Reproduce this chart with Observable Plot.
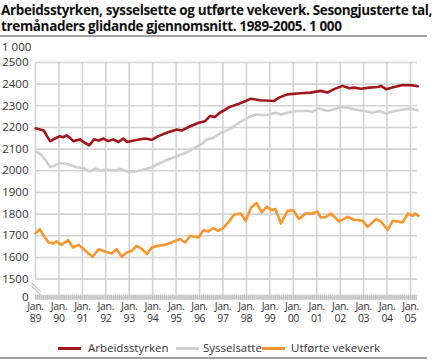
<!DOCTYPE html>
<html><head><meta charset="utf-8">
<script src="https://cdn.jsdelivr.net/npm/d3@7"></script>
<script src="https://cdn.jsdelivr.net/npm/@observablehq/plot@0.6"></script>
<style>
body{margin:0;background:#fff;font-family:"Open Sans",sans-serif;}
#wrap{width:434px;height:361px;position:relative;overflow:hidden;background:#fff}
#title{position:absolute;left:1px;top:2px;font-weight:bold;font-size:13.5px;line-height:16px;color:#111;white-space:nowrap}
#title div{white-space:nowrap;display:inline-block}
.rule{position:absolute;left:0;width:427px;height:2px;background:#a0a0a0}
#unit{position:absolute;left:2px;top:39px;font-size:11.5px;color:#333}
#chart{position:absolute;left:0;top:37px}
#chart g[aria-label="x-axis tick label"] text{letter-spacing:-0.35px}
#legend{position:absolute;top:340px;left:0;width:434px;height:16px;font-size:11.5px;color:#333}
#legend .sw{position:absolute;top:7px;width:23px;height:3px}
#legend .tx{position:absolute;top:0;line-height:16px;white-space:nowrap}
</style></head>
<body><div id="wrap">
<div id="title"><div id="t1">Arbeidsstyrken, sysselsette og utførte vekeverk. Sesongjusterte tal,</div><br><div id="t2">tremånaders glidande gjennomsnitt. 1989-2005. 1 000</div></div>
<div class="rule" style="top:35px"></div>
<div id="chart"></div>
<div id="unit">1 000</div>
<div id="legend"></div>
<div class="rule" style="top:357px"></div>
</div>
<script>
// Series names and colours
const seriesNames = ["Arbeidsstyrken", "Sysselsatte", "Utførte vekeverk"];
const seriesColors = ["#a0161b", "#cfcfcf", "#f7962c"];

// [decimal year, value in 1000]
const arbeidsstyrken = [
[1989.0,2196],[1989.35,2186],[1989.49,2160],[1989.63,2137],[1989.83,2149],[1990.04,2160],[1990.19,2155],[1990.33,2164],[1990.47,2152],[1990.61,2137],[1990.9,2145],[1991.04,2133],[1991.3,2118],[1991.5,2145],[1991.7,2140],[1991.9,2149],[1992.1,2137],[1992.32,2145],[1992.54,2133],[1992.75,2149],[1992.9,2133],[1993.25,2141],[1993.68,2149],[1993.96,2143],[1994.24,2160],[1994.66,2178],[1995.03,2191],[1995.24,2186],[1995.53,2202],[1995.96,2222],[1996.24,2229],[1996.44,2253],[1996.65,2248],[1996.86,2268],[1997.07,2280],[1997.26,2294],[1997.69,2310],[1997.97,2322],[1998.2,2333],[1998.58,2326],[1999.17,2322],[1999.39,2338],[1999.74,2353],[2000.31,2358],[2000.74,2361],[2001.17,2369],[2001.46,2361],[2001.74,2377],[2002.1,2392],[2002.39,2381],[2002.6,2384],[2002.89,2379],[2003.24,2384],[2003.6,2387],[2003.74,2392],[2003.96,2377],[2004.31,2387],[2004.67,2396],[2005.03,2395],[2005.31,2390]
];
const sysselsatte = [
[1989.0,2090],[1989.2,2078],[1989.42,2052],[1989.63,2016],[1989.83,2025],[1990.04,2036],[1990.33,2031],[1990.54,2025],[1990.75,2016],[1991.04,2013],[1991.3,1997],[1991.57,2010],[1991.78,2001],[1992.03,2005],[1992.39,2001],[1992.61,2010],[1992.97,1994],[1993.25,1997],[1993.6,2005],[1993.96,2016],[1994.31,2036],[1994.66,2052],[1995.03,2067],[1995.39,2082],[1995.75,2103],[1996.1,2124],[1996.31,2145],[1996.58,2152],[1996.86,2172],[1997.26,2191],[1997.69,2222],[1998.12,2248],[1998.4,2260],[1998.7,2257],[1999.0,2260],[1999.24,2268],[1999.48,2260],[1999.74,2268],[2000.17,2276],[2000.6,2276],[2000.81,2273],[2001.1,2288],[2001.46,2276],[2001.74,2284],[2002.03,2294],[2002.3,2291],[2002.6,2284],[2003.03,2276],[2003.38,2268],[2003.67,2276],[2003.96,2265],[2004.31,2276],[2004.74,2284],[2004.96,2288],[2005.31,2280]
];
const utforteVekeverk = [
[1989.0,1711],[1989.18,1731],[1989.35,1700],[1989.56,1669],[1989.76,1665],[1989.9,1674],[1990.1,1658],[1990.4,1680],[1990.6,1646],[1990.83,1658],[1991.1,1634],[1991.43,1603],[1991.7,1638],[1991.96,1627],[1992.25,1618],[1992.46,1638],[1992.68,1603],[1992.9,1623],[1993.11,1631],[1993.32,1654],[1993.54,1638],[1993.75,1615],[1993.96,1646],[1994.24,1654],[1994.52,1658],[1994.8,1669],[1995.17,1685],[1995.39,1669],[1995.6,1700],[1995.96,1692],[1996.17,1726],[1996.38,1720],[1996.58,1735],[1996.79,1723],[1997.0,1735],[1997.2,1758],[1997.47,1797],[1997.76,1803],[1997.97,1769],[1998.2,1831],[1998.43,1851],[1998.65,1808],[1998.88,1834],[1999.05,1818],[1999.24,1823],[1999.47,1757],[1999.76,1815],[2000.0,1818],[2000.24,1777],[2000.53,1803],[2000.81,1803],[2001.03,1812],[2001.17,1784],[2001.39,1787],[2001.6,1803],[2001.96,1766],[2002.31,1787],[2002.6,1774],[2002.96,1769],[2003.17,1741],[2003.53,1777],[2003.74,1766],[2004.03,1727],[2004.24,1769],[2004.67,1762],[2004.89,1803],[2005.1,1792],[2005.2,1803],[2005.34,1792]
];

// Axis ticks
const yGridValues = [1500,1600,1700,1800,1900,2000,2100,2200,2300,2400,2500];
const yBottom = 1415;           // axis break: shown as "0"
const xYears = d3.range(1989, 2006);
const xEnd = 2005.3;

// Fit title line 1 to the reference width
(function fitTitle(){
  const t1 = document.getElementById("t1"), t2 = document.getElementById("t2");
  const target = 431;
  const w = t1.getBoundingClientRect().width;
  const n = t1.textContent.length;
  const ls = (target - w) / n;
  t1.style.letterSpacing = ls + "px";
  t2.style.letterSpacing = ls + "px";
})();

const rows = [];
[arbeidsstyrken, sysselsatte, utforteVekeverk].forEach((arr, i) =>
  arr.forEach(([x, v]) => rows.push({series: seriesNames[i], x, v})));

const months = d3.range(0, Math.floor((xEnd - 1989) * 12) + 1).map(i => 1989 + i / 12);
const gridColor = "#d3d3d3";
const breakMarks = [{x1: 1988.83, y1: 1483, x2: 1989.22, y2: 1442}];

const chart = Plot.plot({
  width: 434, height: 295,
  marginLeft: 35, marginRight: 17, marginTop: 25, marginBottom: 35,
  x: {type: "linear", domain: [1989, xEnd]},
  y: {domain: [yBottom, 2500]},
  color: {domain: seriesNames, range: seriesColors},
  style: {fontFamily: "'Open Sans', sans-serif", fontSize: "11.5px", color: "#333", background: "#fff"},
  marks: [
    Plot.ruleY(yGridValues, {stroke: gridColor, strokeWidth: 1.6}),
    Plot.ruleX(xYears.slice(1), {y1: yBottom, y2: 2500, stroke: gridColor, strokeWidth: 1.6}),
    Plot.ruleX([1989], {y1: 1500, y2: 2500, stroke: gridColor, strokeWidth: 1.6}),
    Plot.ruleY([yBottom], {stroke: "#dadada", strokeWidth: 5}),
    Plot.ruleX(months, {y1: yBottom - 11, y2: yBottom + 11, stroke: "#bdbdbd", strokeWidth: 1}),
    Plot.link(breakMarks, {x1: "x1", y1: "y1", x2: "x2", y2: "y2", stroke: "#c8c8c8", strokeWidth: 1.3}),
    Plot.link(breakMarks, {x1: "x1", y1: "y1", x2: "x2", y2: "y2", stroke: "#c8c8c8", strokeWidth: 1.3, dy: 3}),
    Plot.line(rows, {x: "x", y: "v", z: "series", stroke: "series", strokeWidth: 2.6, strokeLinejoin: "round"}),
    Plot.axisY([yBottom, ...yGridValues], {tickSize: 0, tickPadding: 7, tickFormat: d => d === yBottom ? "0" : String(d), fill: "#333", label: null}),
    Plot.axisX(xYears, {tickSize: 0, tickPadding: 4, lineHeight: 1.15, fontSize: 10.5, tickFormat: d => "Jan.\n" + String(d).slice(2), fill: "#333", label: null})
  ]
});
document.getElementById("chart").appendChild(chart);

// Legend
const legendSwatchX = [58, 176, 262];
const legendTextX = [88, 203, 291];
const legend = document.getElementById("legend");
seriesNames.forEach((n, i) => {
  const sw = document.createElement("span");
  sw.className = "sw";
  sw.style.left = legendSwatchX[i] + "px";
  sw.style.background = seriesColors[i];
  const tx = document.createElement("span");
  tx.className = "tx";
  tx.style.left = legendTextX[i] + "px";
  tx.textContent = n;
  legend.appendChild(sw);
  legend.appendChild(tx);
});
</script>
</body></html>
